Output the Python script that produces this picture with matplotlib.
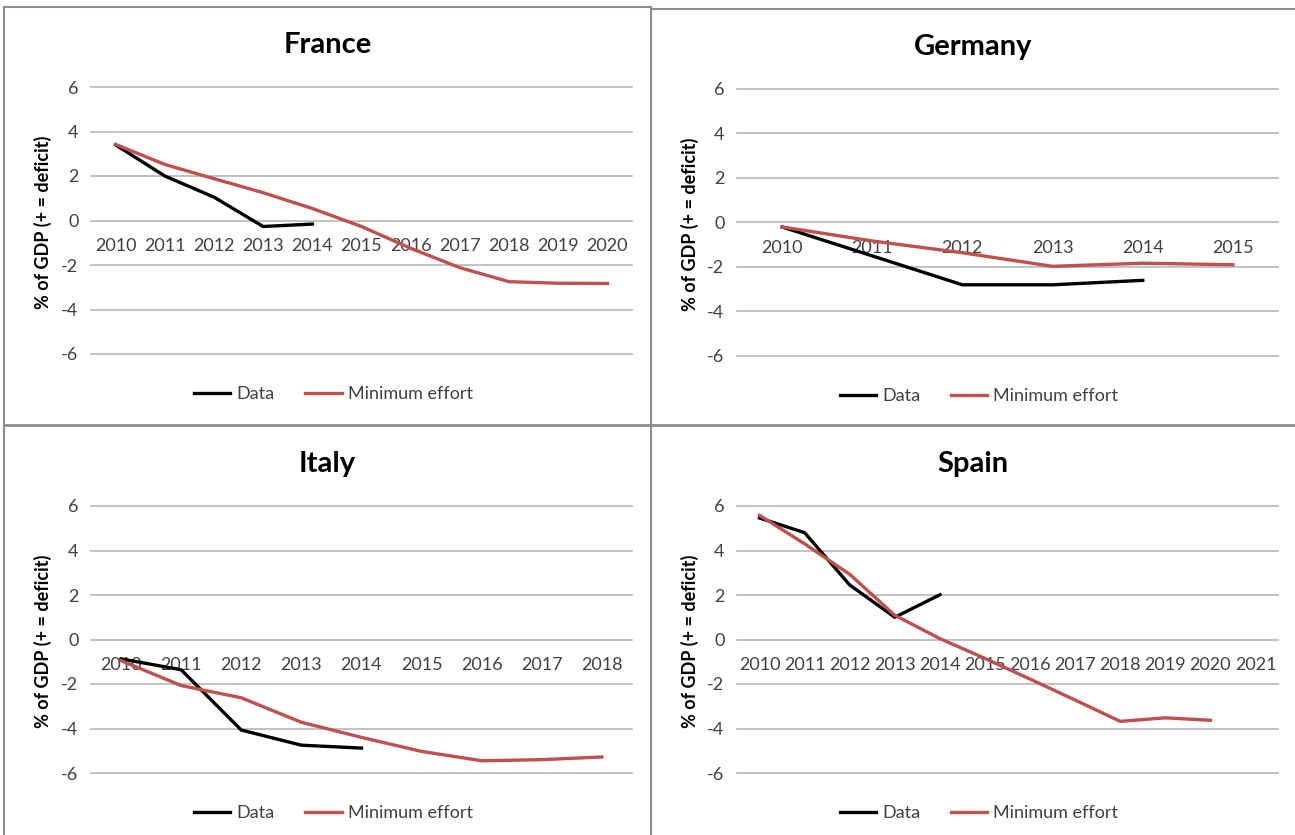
import matplotlib
matplotlib.use("Agg")
import matplotlib.pyplot as plt
from matplotlib.lines import Line2D

plt.rcParams['font.family'] = ['Lato', 'DejaVu Sans']

# ---------------- data ----------------
france_years = ['2010', '2011', '2012', '2013', '2014', '2015', '2016', '2017', '2018', '2019', '2020']
france_data = [3.4, 2.0, 1.05, -0.27, -0.16]
france_min = [3.42, 2.52, 1.88, 1.25, 0.54, -0.27, -1.25, -2.12, -2.75, -2.82, -2.83]

germany_years = ['2010', '2011', '2012', '2013', '2014', '2015']
germany_data = [-0.2, -1.5, -2.8, -2.8, -2.6]
germany_min = [-0.2, -0.83, -1.36, -1.97, -1.83, -1.9]

italy_years = ['2010', '2011', '2012', '2013', '2014', '2015', '2016', '2017', '2018']
italy_data = [-0.87, -1.36, -4.07, -4.75, -4.88]
italy_min = [-0.95, -2.07, -2.62, -3.72, -4.4, -5.03, -5.45, -5.4, -5.28]

spain_years = ['2010', '2011', '2012', '2013', '2014', '2015', '2016', '2017', '2018', '2019', '2020', '2021']
spain_data = [5.46, 4.8, 2.45, 1.0, 2.01]
spain_min = [5.58, 4.3, 2.93, 1.09, 0.04, -0.85, -1.78, -2.72, -3.68, -3.52, -3.63]

titles = ['France', 'Germany', 'Italy', 'Spain']
series_names = ['Data', 'Minimum effort']
y_ticks = [-6, -4, -2, 0, 2, 4, 6]
ylabel = '% of GDP (+ = deficit)'

# ---------------- styling ----------------
W, H = 1295, 835
RED = '#C0504D'
GRID = '#B8B8B8'
BORDER = '#8C8C8C'
TICKC = '#404040'

fig = plt.figure(figsize=(W / 100, H / 100), dpi=100)
fig.patch.set_facecolor('white')


def fx(px):
    return px / W


def fy(py):
    return 1 - py / H


panel_defs = [
    # years, data, min, title, axes_left_px, box_left, box_right, top_grid_px
    (france_years, france_data, france_min, titles[0], 91, 4, 651, 87),
    (germany_years, germany_data, germany_min, titles[1], 737, 651, 1295, 89),
    (italy_years, italy_data, italy_min, titles[2], 91, 4, 651, 506),
    (spain_years, spain_data, spain_min, titles[3], 737, 651, 1295, 506),
]

AX_W = 541
AX_H = 267

for years, data, mineff, title, axl, bl, br, top in panel_defs:
    ax = fig.add_axes([fx(axl), fy(top + AX_H), fx(AX_W), AX_H / H])
    n = len(years)
    x = list(range(n))
    ax.plot(x[:len(data)], data, color='black', lw=2.4, solid_joinstyle='round',
            label=series_names[0], zorder=3)
    ax.plot(x[:len(mineff)], mineff, color=RED, lw=2.4, solid_joinstyle='round',
            label=series_names[1], zorder=3)
    ax.set_xlim(-0.5, n - 0.5)
    ax.set_ylim(-6, 6)
    ax.set_yticks(y_ticks)
    ax.set_yticklabels([str(v) for v in y_ticks])
    ax.set_xticks(x)
    ax.set_xticklabels(years)
    for s in ['top', 'right', 'left']:
        ax.spines[s].set_visible(False)
    ax.spines['bottom'].set_position(('data', 0))
    ax.spines['bottom'].set_visible(False)
    ax.tick_params(axis='x', length=0, pad=12.5, labelsize=13, labelcolor=TICKC)
    ax.tick_params(axis='y', length=0, pad=9, labelsize=13, labelcolor=TICKC)
    ax.grid(axis='y', color=GRID, lw=1.2)
    ax.grid(axis='x', visible=False)
    ax.set_axisbelow(True)
    for gl in ax.get_ygridlines():
        gl.set_clip_on(False)
    ax.patch.set_alpha(0)

    cx = (bl + br) / 2
    fig.text(fx(cx), fy(top - 42), title, ha='center', va='center',
             fontsize=21, fontweight='bold', color='black')
    fig.text(fx(bl + 39), fy(top + 135), ylabel, rotation=90, ha='center', va='center',
             fontsize=13, fontweight='bold', color='black')
    ax.legend(loc='center', bbox_to_anchor=(fx(cx + 6), fy(top + 307)),
              bbox_transform=fig.transFigure, ncol=2, frameon=False,
              fontsize=13, handlelength=2.0, handletextpad=0.35,
              columnspacing=1.7, labelcolor=TICKC)

# panel borders
def fline(x0, y0, x1, y1, lw=1.5):
    fig.add_artist(Line2D([fx(x0), fx(x1)], [fy(y0), fy(y1)], color=BORDER, lw=lw))

fline(4, 7, 651, 7)
fline(651, 9, 1295, 9)
fline(4, 7, 4, 835)
fline(651, 7, 651, 835)
fline(4, 425, 1295, 425, lw=2)

fig.savefig('out.png', dpi=100, facecolor='white')
